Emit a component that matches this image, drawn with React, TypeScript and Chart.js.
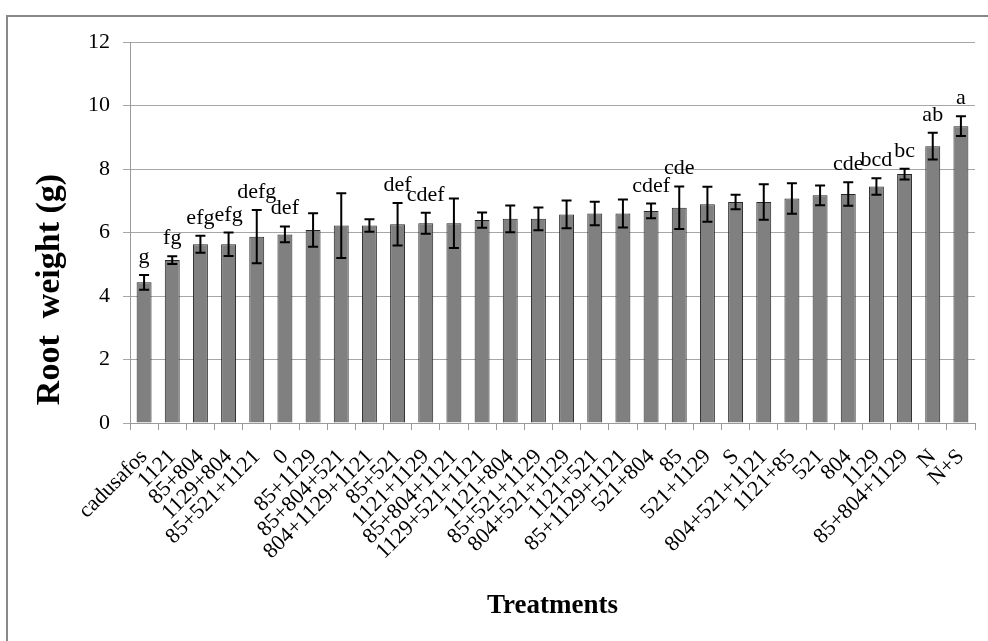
import React, { useEffect, useRef } from "react";
import { Chart, registerables } from "chart.js";

Chart.register(...registerables);

const categories = [
  "cadusafos", "1121", "85+804", "1129+804", "85+521+1121", "0", "85+1129",
  "85+804+521", "804+1129+1121", "85+521", "1121+1129", "85+804+1121",
  "1129+521+1121", "1121+804", "85+521+1129", "804+521+1129", "1121+521",
  "85+1129+1121", "521+804", "85", "521+1129", "S", "804+521+1121", "1121+85",
  "521", "804", "1129", "85+804+1129", "N", "N+S",
];

const means = [
  4.43, 5.13, 5.63, 5.63, 5.87, 5.94, 6.08, 6.22, 6.22, 6.26, 6.29, 6.29, 6.39,
  6.43, 6.43, 6.57, 6.6, 6.6, 6.68, 6.78, 6.89, 6.96, 6.96, 7.07, 7.17, 7.21,
  7.45, 7.84, 8.72, 9.35,
];

const errors = [
  0.23, 0.12, 0.27, 0.37, 0.84, 0.25, 0.53, 1.02, 0.2, 0.67, 0.33, 0.78, 0.24,
  0.42, 0.36, 0.44, 0.37, 0.44, 0.23, 0.67, 0.55, 0.23, 0.56, 0.48, 0.31, 0.37,
  0.26, 0.17, 0.42, 0.31,
];

const letters = [
  "g", "fg", "efg", "efg", "defg", "def", "", "", "", "def", "cdef", "", "", "",
  "", "", "", "", "cdef", "cde", "", "", "", "", "", "cde", "bcd", "bc", "ab", "a",
];

const yMin = 0;
const yMax = 12;
const yStep = 2;

const xTitle = "Treatments";
const yTitle = "Root  weight (g)";

const FONT = "'Liberation Serif', 'Times New Roman', serif";

const errorBarPlugin = {
  id: "errorBarsAndLetters",
  afterDatasetsDraw(chart: any) {
    const ctx = chart.ctx;
    const meta = chart.getDatasetMeta(0);
    const ys = chart.scales.y;
    ctx.save();
    ctx.strokeStyle = "#000";
    ctx.lineWidth = 2;
    ctx.fillStyle = "#000";
    ctx.font = `22px ${FONT}`;
    ctx.textAlign = "center";
    ctx.textBaseline = "alphabetic";
    meta.data.forEach((bar: any, i: number) => {
      const x = bar.x;
      const top = ys.getPixelForValue(means[i] + errors[i]);
      const bot = ys.getPixelForValue(means[i] - errors[i]);
      ctx.beginPath();
      ctx.moveTo(x, top);
      ctx.lineTo(x, bot);
      ctx.moveTo(x - 5, top);
      ctx.lineTo(x + 5, top);
      ctx.moveTo(x - 5, bot);
      ctx.lineTo(x + 5, bot);
      ctx.stroke();
      if (letters[i]) {
        ctx.fillText(letters[i], x, top - 12);
      }
    });
    ctx.restore();
  },
};

const titlePlugin = {
  id: "axisTitles",
  afterDraw(chart: any) {
    const ctx = chart.ctx;
    const area = chart.chartArea;
    ctx.save();
    ctx.fillStyle = "#000";
    ctx.textAlign = "center";
    ctx.textBaseline = "middle";
    ctx.font = `bold 27px ${FONT}`;
    ctx.fillText(xTitle, (area.left + area.right) / 2, area.bottom + 183);
    ctx.translate(area.left - 80, (area.top + area.bottom) / 2 + 57);
    ctx.rotate(-Math.PI / 2);
    ctx.font = `bold 34px ${FONT}`;
    ctx.fillText(yTitle, 0, 0);
    ctx.restore();
  },
};

export default function App() {
  const canvasRef = useRef<HTMLCanvasElement | null>(null);

  useEffect(() => {
    const canvas = canvasRef.current;
    if (!canvas) return;
    const chart = new Chart(canvas, {
      type: "bar",
      data: {
        labels: categories,
        datasets: [
          {
            data: means,
            backgroundColor: "#808080",
            borderColor: "#262626",
            borderWidth: 1,
            categoryPercentage: 1,
            barPercentage: 0.53,
          },
        ],
      },
      options: {
        responsive: false,
        animation: false,
        devicePixelRatio: 1,
        layout: { padding: { top: 42, right: 13, left: 0, bottom: 0 } },
        plugins: {
          legend: { display: false },
          tooltip: { enabled: false },
          title: { display: false },
        },
        scales: {
          x: {
            afterFit(scale: any) {
              scale.height = 218;
              scale.paddingRight = 0;
              scale.paddingLeft = 0;
            },
            grid: {
              display: true,
              drawOnChartArea: false,
              drawTicks: true,
              tickLength: 7,
              color: "#9a9a9a",
              offset: true,
            },
            border: { display: true, color: "#9a9a9a", width: 1 },
            ticks: {
              autoSkip: false,
              maxRotation: 45,
              minRotation: 45,
              padding: 14,
              color: "#000",
              font: { family: FONT, size: 22 },
            },
          },
          y: {
            min: yMin,
            max: yMax,
            afterFit(scale: any) {
              scale.width = 130;
            },
            grid: {
              color: "#a6a6a6",
              lineWidth: 1,
              drawTicks: true,
              tickLength: 7,
            },
            border: { display: true, color: "#9a9a9a", width: 1 },
            ticks: {
              stepSize: yStep,
              padding: 13,
              color: "#000",
              font: { family: FONT, size: 22 },
            },
          },
        },
      },
      plugins: [errorBarPlugin, titlePlugin],
    });
    return () => chart.destroy();
  }, []);

  return (
    <div
      style={{
        position: "fixed",
        left: 0,
        top: 0,
        width: 988,
        height: 641,
        overflow: "hidden",
        background: "#fff",
      }}
    >
      <div
        style={{
          position: "absolute",
          left: 6,
          top: 15,
          width: 1000,
          height: 700,
          borderTop: "2px solid #888",
          borderLeft: "2px solid #888",
        }}
      />
      <canvas
        ref={canvasRef}
        width={988}
        height={641}
        style={{ position: "absolute", left: 0, top: 0, width: 988, height: 641 }}
      />
    </div>
  );
}
